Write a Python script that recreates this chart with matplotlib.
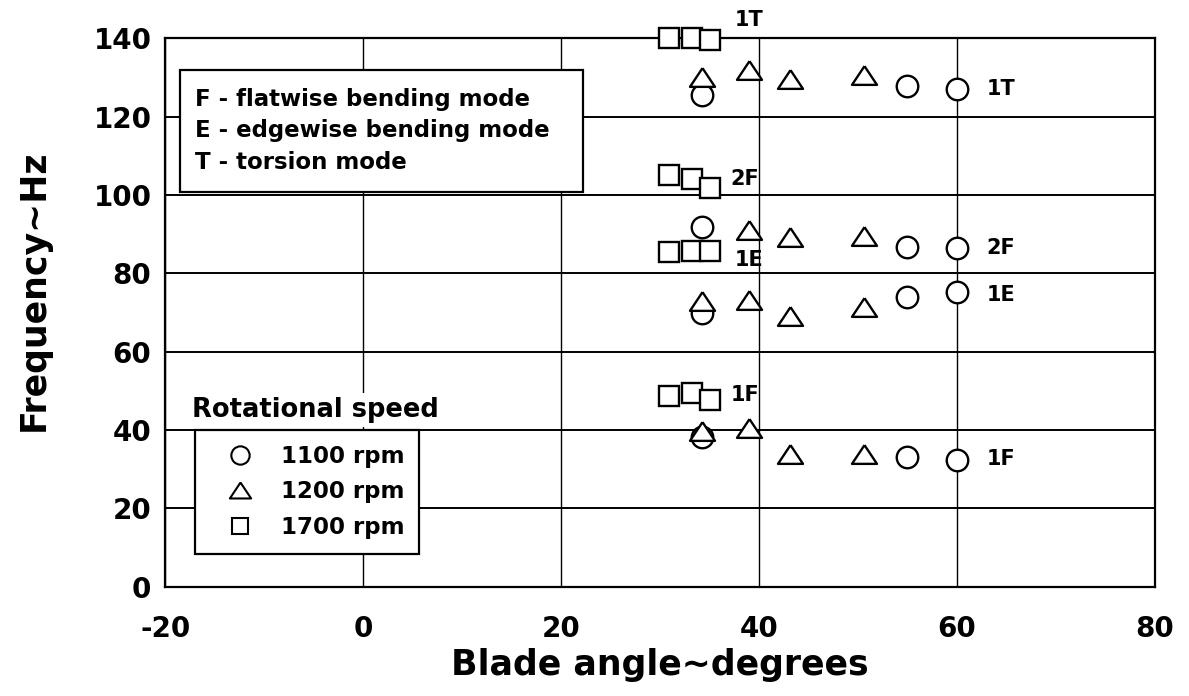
import matplotlib
matplotlib.use('Agg')
import matplotlib.pyplot as plt
from matplotlib.lines import Line2D
from matplotlib.patches import Rectangle

plt.rcParams['font.family'] = ['DejaVu Sans']
plt.rcParams['font.weight'] = 'bold'
plt.rcParams['axes.unicode_minus'] = False

# blade angles (degrees) for each rotational speed
angles1100 = [34.3, 55.0, 60.0]
angles1200 = [34.3, 39.0, 43.2, 50.6]
angles1200_2F = [39.0, 43.2, 50.6]
angles1700 = [30.9, 33.2, 35.1]

# measured frequencies (Hz) per mode
freq1100 = {'1F': [38.2, 33.0, 32.4],
            '1E': [70.0, 74.0, 75.2],
            '2F': [91.9, 86.6, 86.4],
            '1T': [125.5, 127.8, 127.0]}
freq1200 = {'1F': [39.7, 40.4, 34.0, 34.0],
            '1E': [72.9, 73.3, 69.2, 71.5],
            '2F': [91.1, 89.3, 89.5],
            '1T': [130.0, 132.0, 129.5, 130.5]}
freq1700 = {'1F': [48.6, 49.4, 47.7],
            '1E': [85.5, 85.7, 85.7],
            '2F': [105.2, 104.0, 101.9],
            '1T': [140.0, 140.0, 139.5]}

modeNames = ['1F', '1E', '2F', '1T']
# mode labels beside the 1700 rpm points and beside the 60 deg points
leftLabelPos = [(38.6, 49.0), (39.0, 83.5), (38.6, 104.0), (39.0, 144.6)]
rightLabelPos = [(63.0, 32.5), (63.0, 74.5), (63.0, 86.5), (63.0, 127.0)]

xTicks = [-20, 0, 20, 40, 60, 80]
yTicks = [0, 20, 40, 60, 80, 100, 120, 140]
modeLegend = ['F - flatwise bending mode', 'E - edgewise bending mode', 'T - torsion mode']
speedLabels = ['1100 rpm', '1200 rpm', '1700 rpm']

# flattened triangle, wider than tall
triangle = [(0, 0.75), (-1, -0.75), (1, -0.75), (0, 0.75)]
styles = [dict(marker='o', ms=15.5), dict(marker=triangle, ms=18), dict(marker='s', ms=14)]

fig = plt.figure(figsize=(11.89, 6.96), dpi=100)
ax = fig.add_axes([0.139, 0.157, 0.832, 0.788])
ax.set_xlim(-20, 80)
ax.set_ylim(0, 140)

for x in xTicks:
    ax.axvline(x, color='black', lw=1.0, zorder=1)
for y in yTicks:
    ax.axhline(y, color='black', lw=1.4, zorder=1)

for sp in ax.spines.values():
    sp.set_linewidth(1.6)
    sp.set_zorder(2)

common = dict(ls='none', mfc='white', mec='black', mew=1.7, zorder=4, clip_on=False)
for mode in modeNames:
    ax.plot(angles1100, freq1100[mode], **styles[0], **common)
    ax.plot(angles1200_2F if mode == '2F' else angles1200, freq1200[mode], **styles[1], **common)
    ax.plot(angles1700, freq1700[mode], **styles[2], **common)

for mode, (lx, ly) in zip(modeNames, leftLabelPos):
    ax.text(lx, ly, mode, fontsize=15, ha='center', va='center', zorder=5)
for mode, (rx, ry) in zip(modeNames, rightLabelPos):
    ax.text(rx, ry, mode, fontsize=15, ha='left', va='center', zorder=5)

# box describing the mode letters
ax.add_patch(Rectangle((0.015, 0.72), 0.407, 0.222, transform=ax.transAxes,
                       fc='white', ec='black', lw=1.6, zorder=6))
for i, line in enumerate(modeLegend):
    ax.text(0.030, 0.889 - i * 0.0575, line, transform=ax.transAxes, fontsize=16.5,
            ha='left', va='center', zorder=7)

ax.text(0.027, 0.322, 'Rotational speed', transform=ax.transAxes, fontsize=18.5,
        ha='left', va='center', zorder=7,
        bbox=dict(boxstyle='square,pad=0.15', fc='white', ec='none'))

handles = [Line2D([], [], ls='none', mfc='white', mec='black', mew=1.5,
                  marker=s['marker'], ms=s['ms'] * 0.85) for s in styles]
leg = ax.legend(handles, speedLabels, loc='upper left', bbox_to_anchor=(0.030, 0.286),
                borderaxespad=0, fancybox=False, edgecolor='black', framealpha=1,
                fontsize=16.5, borderpad=0.65, handlelength=2.6, handletextpad=0.5,
                labelspacing=0.55, numpoints=1)
leg.get_frame().set_linewidth(1.6)
leg.set_zorder(7)

ax.set_xticks(xTicks)
ax.set_yticks(yTicks)
ax.tick_params(axis='both', length=0, labelsize=20)
ax.tick_params(axis='x', pad=20)
ax.tick_params(axis='y', pad=10)

ax.set_xlabel('Blade angle\u223cdegrees', fontsize=25, fontweight='bold')
ax.set_ylabel('Frequency\u223cHz', fontsize=25, fontweight='bold')
ax.xaxis.set_label_coords(0.5, -0.142)
ax.xaxis.label.set_va('center')
ax.yaxis.set_label_coords(-0.133, 0.541)
ax.yaxis.label.set_va('center')

fig.savefig('out.png', dpi=100)
